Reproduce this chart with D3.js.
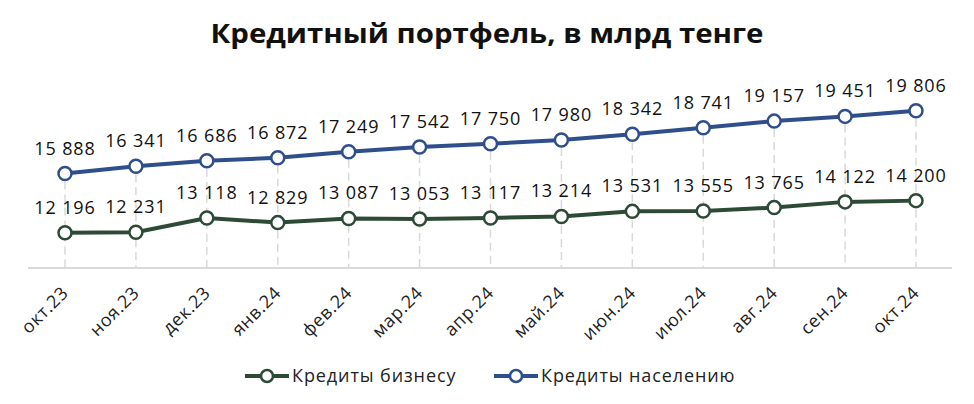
<!DOCTYPE html>
<html><head><meta charset="utf-8">
<script src="https://cdn.jsdelivr.net/npm/d3@7"></script>
<style>body{margin:0;background:#fff}svg{display:block}</style>
</head><body>
<script>
const categories = ["окт.23","ноя.23","дек.23","янв.24","фев.24","мар.24","апр.24","май.24","июн.24","июл.24","авг.24","сен.24","окт.24"];
const business = [12196,12231,13118,12829,13087,13053,13117,13214,13531,13555,13765,14122,14200];
const population = [15888,16341,16686,16872,17249,17542,17750,17980,18342,18741,19157,19451,19806];
const seriesNames = ["Кредиты бизнесу","Кредиты населению"];
const yDomain = [10000, 22000];

const W = 974, H = 404;
const colors = {business:"#2c4a36", population:"#2f4e8c"};
const font = "'Open Sans', 'Noto Sans', sans-serif";

const svg = d3.select("body").append("svg").attr("width", W).attr("height", H);

svg.append("text").attr("x", 487).attr("y", 43).attr("text-anchor","middle")
  .attr("font-family", font).attr("font-weight", 700).attr("font-size", 27)
  .attr("fill", "#111").attr("textLength", 553).attr("lengthAdjust","spacingAndGlyphs")
  .text("Кредитный  портфель, в млрд тенге");

const x = d3.scalePoint().domain(categories).range([65, 916]);
const y = d3.scaleLinear().domain(yDomain).range([268, 75.5]);

// drop lines
svg.append("g").selectAll("line").data(categories).join("line")
  .attr("x1", d => x(d)).attr("x2", d => x(d))
  .attr("y1", (d,i) => y(Math.max(business[i], population[i])) + 8)
  .attr("y2", 268)
  .attr("stroke", "#d9d9d9").attr("stroke-width", 1.5).attr("stroke-dasharray", "8,5");

// axis
const xAxis = d3.axisBottom(x).tickSize(0).tickPadding(0);
const ax = svg.append("g").attr("transform", "translate(0,268)").call(xAxis);
ax.select(".domain").remove();
svg.append("line").attr("x1", 28).attr("x2", 952).attr("y1", 268).attr("y2", 268)
  .attr("stroke", "#d9d9d9").attr("stroke-width", 2);
ax.selectAll(".tick text")
  .attr("font-family", font).attr("font-size", 18).attr("letter-spacing", 0.6).attr("fill", "#222")
  .attr("text-anchor", "end").attr("dy", 0).attr("y", 0)
  .attr("transform", "translate(4,26) rotate(-45)");

const line = d3.line().x((d,i) => x(categories[i])).y(d => y(d));

function drawSeries(vals, color) {
  const g = svg.append("g");
  g.append("path").datum(vals).attr("d", line).attr("fill", "none")
    .attr("stroke", color).attr("stroke-width", 4);
  g.selectAll("circle").data(vals).join("circle")
    .attr("cx", (d,i) => x(categories[i])).attr("cy", d => y(d)).attr("r", 6.5)
    .attr("fill", "#fff").attr("stroke", color).attr("stroke-width", 2.5);
  g.selectAll("text").data(vals).join("text")
    .attr("x", (d,i) => x(categories[i])).attr("y", d => y(d) - 19)
    .attr("text-anchor", "middle").attr("font-family", font).attr("font-size", 18)
    .attr("letter-spacing", 0.9).attr("fill", "#111")
    .text(d => d3.format(",")(d).replace(",", " "));
}
drawSeries(business, colors.business);
drawSeries(population, colors.population);

// legend
const leg = [{name: seriesNames[0], color: colors.business, x: 245},
             {name: seriesNames[1], color: colors.population, x: 494}];
leg.forEach(l => {
  const g = svg.append("g").attr("transform", `translate(${l.x},376)`);
  g.append("line").attr("x1", 0).attr("x2", 44).attr("stroke", l.color).attr("stroke-width", 4);
  g.append("circle").attr("cx", 22).attr("r", 6).attr("fill", "#fff")
    .attr("stroke", l.color).attr("stroke-width", 2.5);
  g.append("text").attr("x", 47).attr("y", 6).attr("font-family", font)
    .attr("font-size", 18).attr("letter-spacing", 0.9).attr("fill", "#222").text(l.name);
});
</script>
</body></html>
